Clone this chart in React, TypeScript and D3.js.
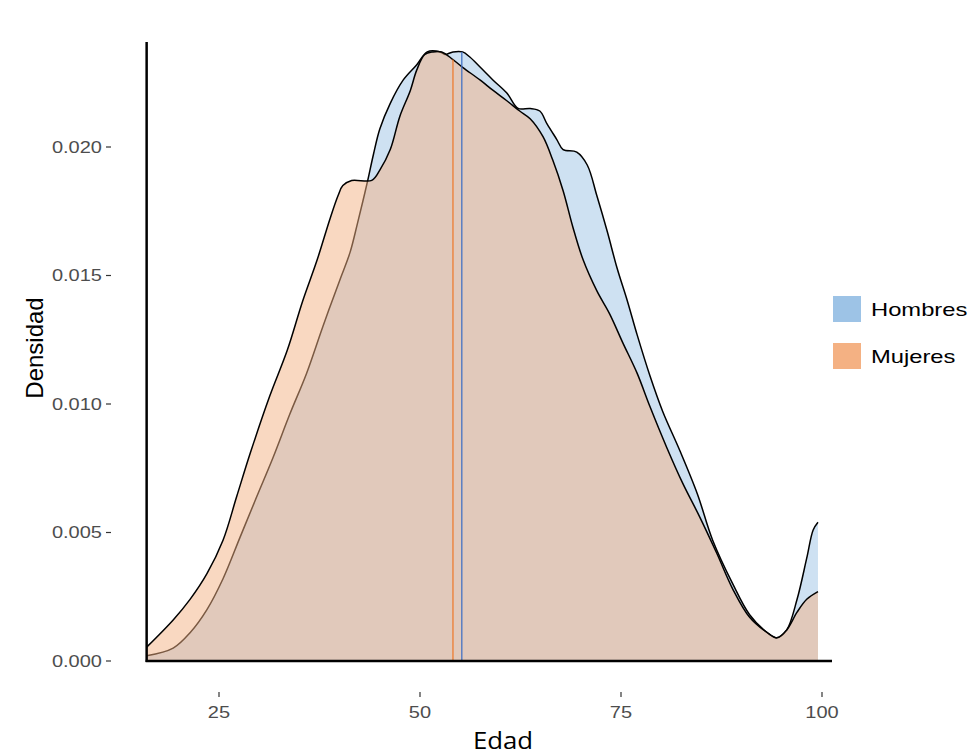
import { useEffect } from 'react';
import * as d3 from 'd3';

// Density of age (Edad) by sex
const mujeresEdad = [16.0, 19.3, 21.4, 23.5, 25.5, 27.2, 28.9, 31.3, 33.5, 35.4, 37.2, 38.8, 39.8, 40.4, 41.5, 44.0, 45.0, 46.3, 47.5, 48.8, 49.6, 50.6, 51.6, 52.7, 54.1, 55.3, 57.5, 59.1, 60.8, 62.4, 63.7, 65.3, 66.5, 67.8, 69.0, 70.3, 72.0, 73.6, 75.2, 77.0, 78.6, 80.7, 82.7, 84.8, 86.9, 88.9, 91.0, 93.2, 94.4, 95.6, 96.9, 98.1, 99.5];
const mujeresDensidad = [0.00054, 0.0016, 0.0024, 0.0034, 0.0047, 0.0064, 0.0081, 0.0103, 0.0121, 0.014, 0.0156, 0.0172, 0.0181, 0.0185, 0.0187, 0.0187, 0.0191, 0.0199, 0.0212, 0.0222, 0.023, 0.0236, 0.0237, 0.0237, 0.0234, 0.0231, 0.0226, 0.0222, 0.0218, 0.0214, 0.0211, 0.0204, 0.0195, 0.0183, 0.0169, 0.0156, 0.0144, 0.0135, 0.0124, 0.0112, 0.0099, 0.0083, 0.0069, 0.0056, 0.0042, 0.0028, 0.0017, 0.0011, 0.0009, 0.0012, 0.0019, 0.0024, 0.0027];

const hombresEdad = [16.0, 19.3, 21.4, 23.5, 25.5, 27.6, 29.7, 31.7, 33.8, 35.9, 37.9, 40.0, 41.3, 42.2, 42.9, 43.5, 44.2, 45.0, 46.3, 47.9, 49.6, 50.9, 52.5, 53.1, 54.1, 55.3, 56.2, 57.5, 59.1, 60.8, 62.2, 63.7, 64.9, 65.8, 67.0, 67.8, 69.5, 70.8, 72.0, 73.3, 74.5, 75.8, 77.0, 78.6, 80.2, 82.3, 84.5, 86.4, 88.9, 91.0, 93.2, 94.4, 95.6, 96.9, 98.1, 98.9, 99.5];
const hombresDensidad = [0.0002, 0.0005, 0.0011, 0.002, 0.0032, 0.0048, 0.0064, 0.0079, 0.0096, 0.0112, 0.013, 0.0148, 0.0159, 0.017, 0.0179, 0.0187, 0.0197, 0.0207, 0.0217, 0.0226, 0.0232, 0.0237, 0.0237, 0.0236, 0.0237, 0.0237, 0.0235, 0.0231, 0.0226, 0.0221, 0.0215, 0.0215, 0.0214, 0.0209, 0.0203, 0.0199, 0.0198, 0.0193, 0.0181, 0.0167, 0.0153, 0.014, 0.0127, 0.0111, 0.0097, 0.0082, 0.0065, 0.0047, 0.003, 0.0018, 0.0011, 0.0009, 0.0012, 0.0024, 0.004, 0.0051, 0.0054];

const mediaMujeres = 54.1;
const mediaHombres = 55.2;

const xTicks = [25, 50, 75, 100];
const yTicks = [0, 0.005, 0.01, 0.015, 0.02];
const series = ['Hombres', 'Mujeres'];

const FILL = { Hombres: '#9dc3e6', Mujeres: '#f4b183' } as Record<string, string>;
const MEAN = { Hombres: '#4472c4', Mujeres: '#ed7d31' } as Record<string, string>;

const W = 977;
const H = 755;
const SX = 1.25; // reference text is stretched horizontally
const FONT = '"Liberation Sans", Arial, sans-serif';

type Pt = { edad: number; d: number };

export default function App() {
  useEffect(() => {
    document.body.style.margin = '0';
  }, []);

  const x = d3.scaleLinear().domain([25, 100]).range([219, 822]);
  const y = d3.scaleLinear().domain([0, 0.02]).range([661, 147]);

  const toPts = (e: number[], v: number[]): Pt[] => e.map((a, i) => ({ edad: a, d: v[i] }));
  const data: Record<string, Pt[]> = {
    Hombres: toPts(hombresEdad, hombresDensidad),
    Mujeres: toPts(mujeresEdad, mujeresDensidad),
  };

  const curve = d3.curveCatmullRom.alpha(0.5);
  const area = d3
    .area<Pt>()
    .x(p => x(p.edad))
    .y0(y(0))
    .y1(p => y(p.d))
    .curve(curve);
  const line = d3
    .line<Pt>()
    .x(p => x(p.edad))
    .y(p => y(p.d))
    .curve(curve);

  const densityAt = (pts: Pt[], a: number) => {
    const i = d3.bisector((p: Pt) => p.edad).left(pts, a);
    const p0 = pts[Math.max(0, i - 1)];
    const p1 = pts[Math.min(pts.length - 1, i)];
    if (p1.edad === p0.edad) return p0.d;
    return p0.d + ((a - p0.edad) / (p1.edad - p0.edad)) * (p1.d - p0.d);
  };
  const medias: Record<string, number> = { Hombres: mediaHombres, Mujeres: mediaMujeres };

  const axisLeftX = x(mujeresEdad[0]);
  const axisRightX = x(100) + 10;

  return (
    <svg width={W} height={H} style={{ display: 'block', background: '#fff' }}>
      {/* density areas */}
      {series.map(s => (
        <g key={s}>
          <path d={area(data[s]) ?? ''} fill={FILL[s]} fillOpacity={0.5} />
          <path d={line(data[s]) ?? ''} fill="none" stroke="#000" strokeWidth={1.5} />
        </g>
      ))}

      {/* mean lines */}
      {series.map(s => (
        <line
          key={'m' + s}
          x1={x(medias[s])}
          x2={x(medias[s])}
          y1={y(0)}
          y2={y(densityAt(data[s], medias[s]))}
          stroke={MEAN[s]}
          strokeWidth={1.3}
        />
      ))}

      {/* axis lines */}
      <line x1={axisLeftX} x2={axisLeftX} y1={42} y2={662} stroke="#000" strokeWidth={2.5} />
      <line x1={axisLeftX - 1} x2={axisRightX} y1={y(0)} y2={y(0)} stroke="#000" strokeWidth={2.5} />

      {/* y ticks */}
      {yTicks.map(t => (
        <g key={'y' + t}>
          <line x1={106} x2={111} y1={y(t)} y2={y(t)} stroke="#333" strokeWidth={1.2} />
          <g transform={`translate(102,${y(t)}) scale(${SX},1)`}>
            <text textAnchor="end" dy="0.36em" fontFamily={FONT} fontSize={16} fill="#4d4d4d">
              {d3.format('.3f')(t)}
            </text>
          </g>
        </g>
      ))}

      {/* x ticks */}
      {xTicks.map(t => (
        <g key={'x' + t}>
          <line x1={x(t)} x2={x(t)} y1={692} y2={697} stroke="#333" strokeWidth={1.2} />
          <g transform={`translate(${x(t)},712) scale(${SX},1)`}>
            <text textAnchor="middle" dy="0.36em" fontFamily={FONT} fontSize={16} fill="#4d4d4d">
              {t}
            </text>
          </g>
        </g>
      ))}

      {/* axis titles */}
      <g transform="translate(503,749) scale(1.12,1)">
        <text textAnchor="middle" fontFamily='"Open Sans", sans-serif' fontSize={23} fill="#000">
          Edad
        </text>
      </g>
      <g transform="translate(43,348) rotate(-90)">
        <text textAnchor="middle" fontFamily={FONT} fontSize={24} fill="#000">
          Densidad
        </text>
      </g>

      {/* legend */}
      {series.map((s, i) => (
        <g key={'l' + s} transform={`translate(833,${296 + i * 47})`}>
          <rect width={28} height={26} fill={FILL[s]} />
          <g transform={`translate(38,13) scale(${SX},1)`}>
            <text dy="0.36em" fontFamily={FONT} fontSize={19} fill="#000">
              {s}
            </text>
          </g>
        </g>
      ))}
    </svg>
  );
}
